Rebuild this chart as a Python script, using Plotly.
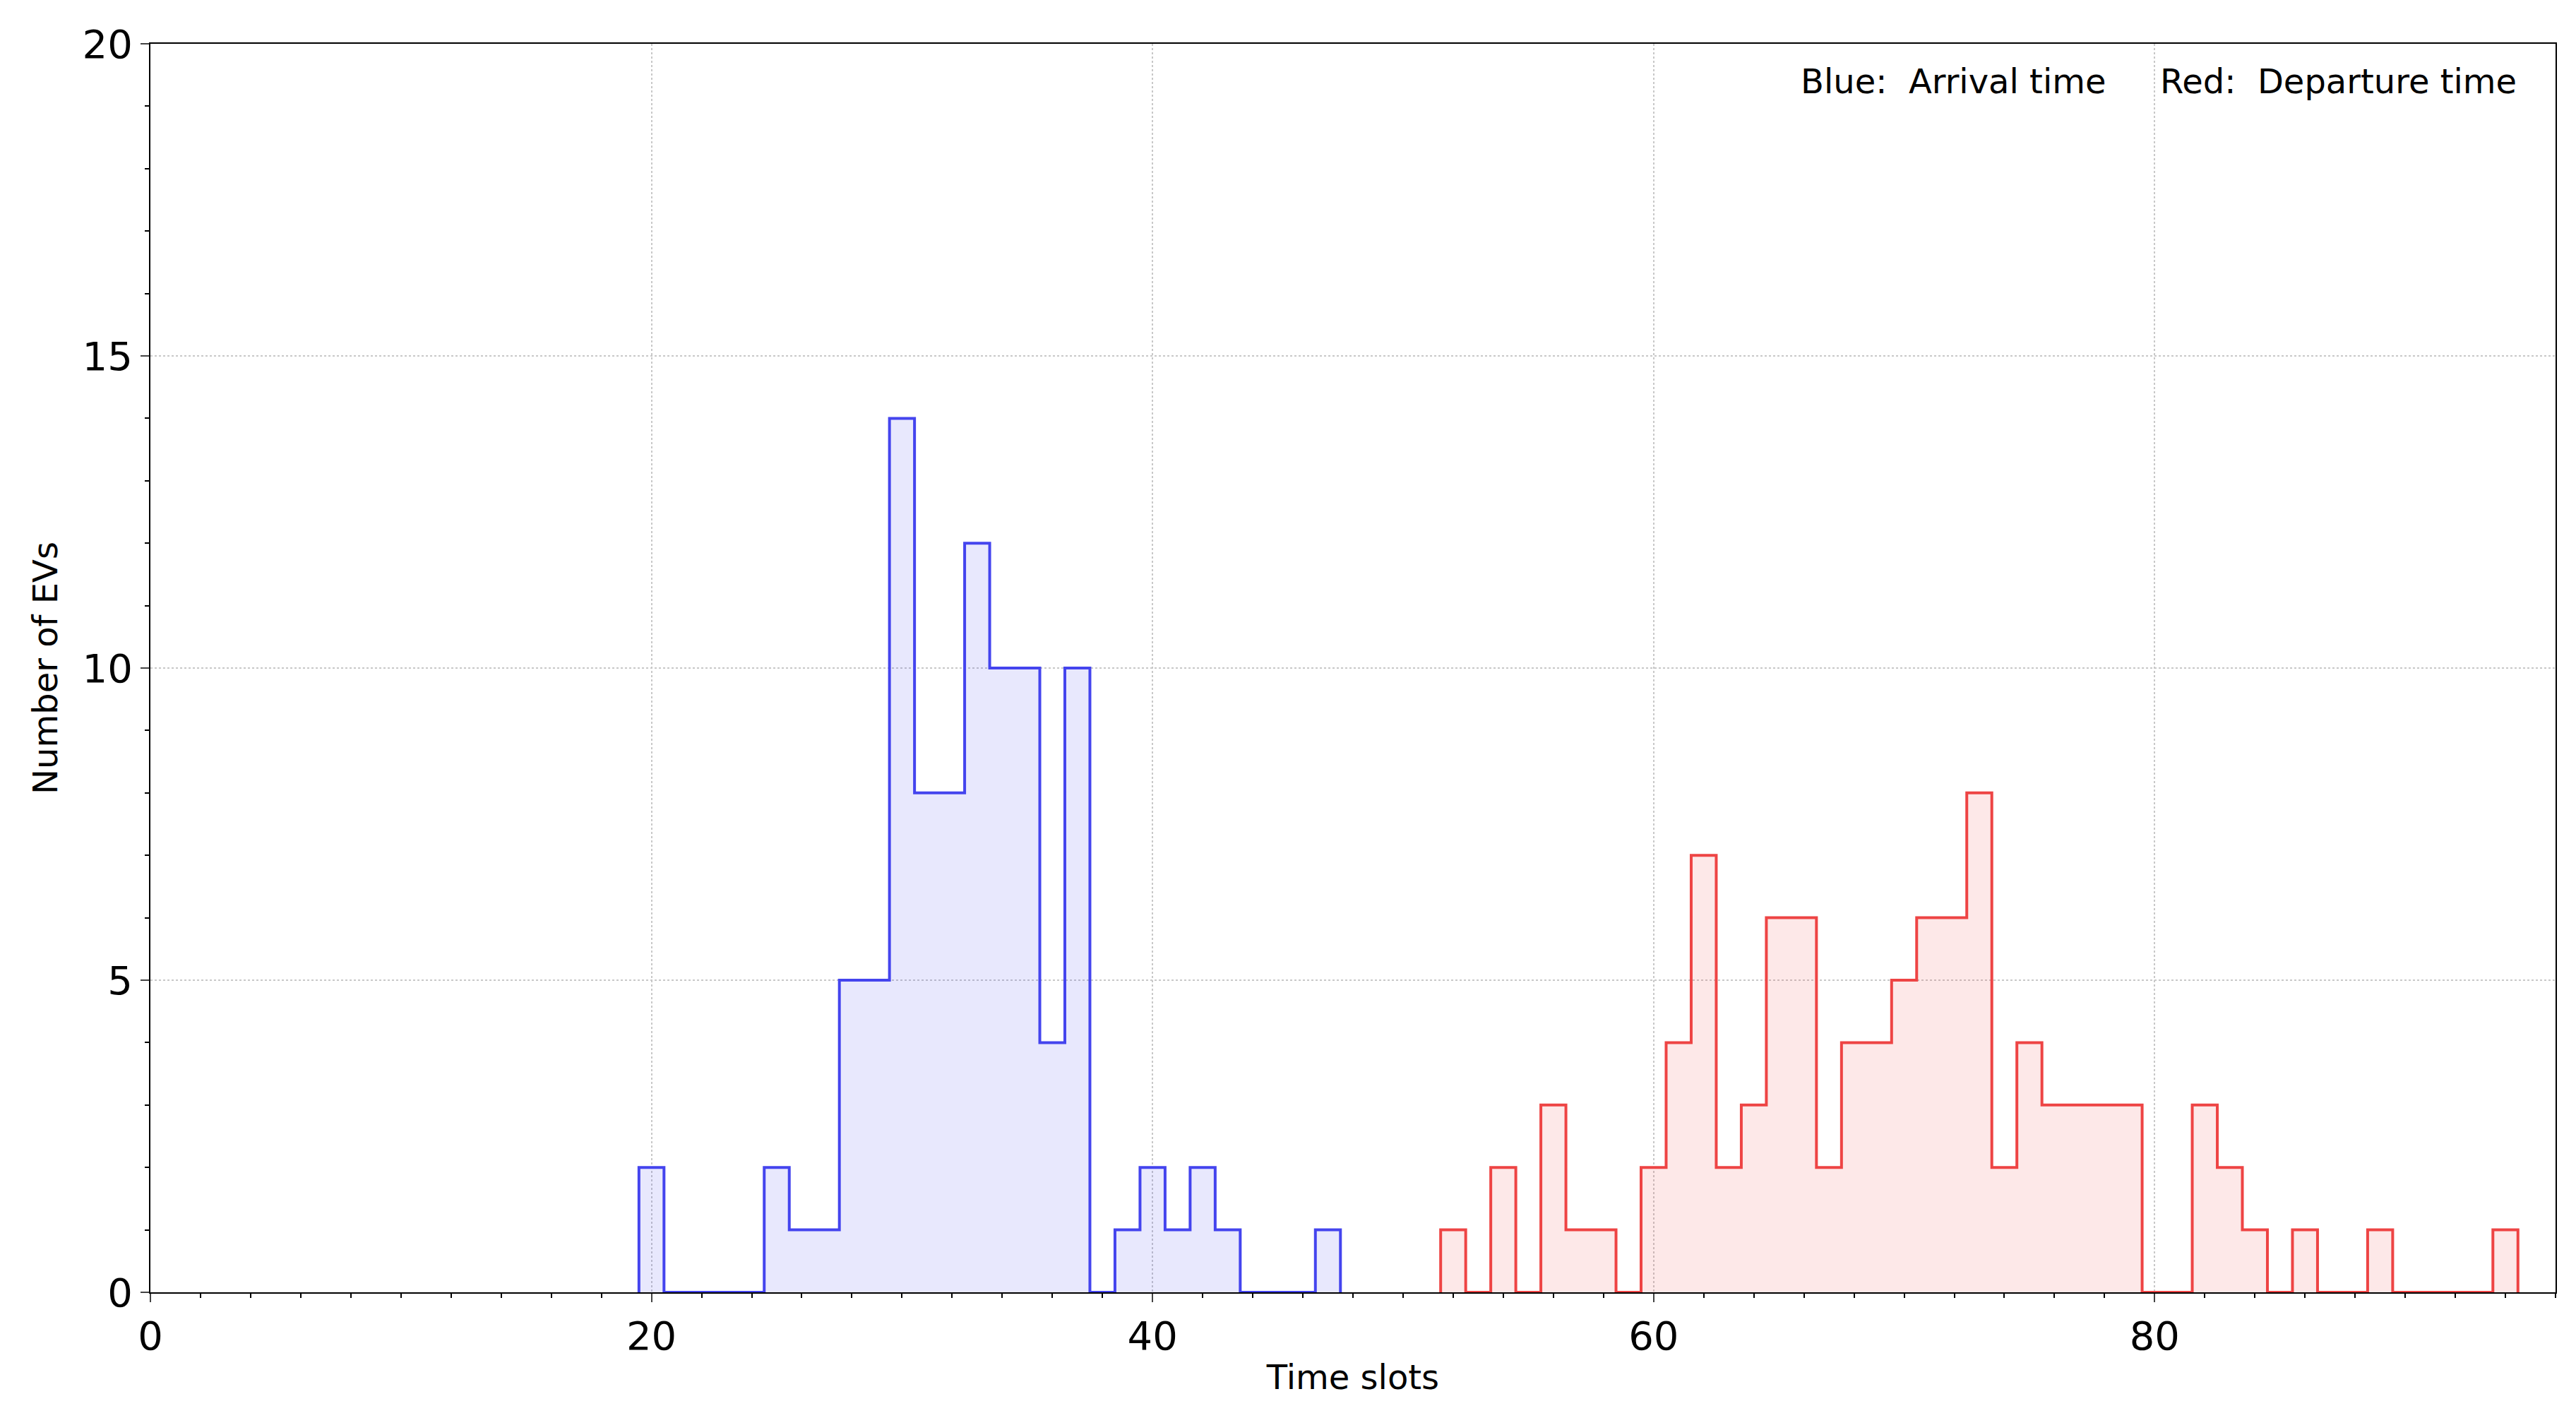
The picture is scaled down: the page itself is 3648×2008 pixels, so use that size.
import plotly.graph_objects as go

# Data: bin centers and counts
blue_slots = [20, 25, 26, 27, 28, 29, 30, 31, 32, 33, 34, 35, 36, 37, 39, 40, 41, 42, 43, 47]
blue_counts = [2, 2, 1, 1, 5, 5, 14, 8, 8, 12, 10, 10, 4, 10, 1, 2, 1, 2, 1, 1]
red_slots = [52, 54, 56, 57, 58, 60, 61, 62, 63, 64, 65, 66, 67, 68, 69, 70, 71, 72, 73, 74, 75,
             76, 77, 78, 79, 82, 83, 84, 86, 89, 94]
red_counts = [1, 2, 3, 1, 1, 2, 4, 7, 2, 3, 6, 6, 2, 4, 4, 5, 6, 6, 8, 2, 4,
              3, 3, 3, 3, 3, 2, 1, 1, 1, 1]
x_ticks = [0, 20, 40, 60, 80]
y_ticks = [0, 5, 10, 15, 20]


def step_series(slots, counts):
    d = dict(zip(slots, counts))
    lo, hi = min(slots), max(slots)
    xs, ys = [], []
    for s in range(lo, hi + 1):
        xs.append(s - 0.5)
        ys.append(d.get(s, 0))
    xs.append(hi + 0.5)
    ys.append(0)
    xs = [lo - 0.5] + xs
    ys = [0] + ys
    return xs, ys


fig = go.Figure()
for slots, counts, lc, fc in [(blue_slots, blue_counts, "#4444ee", "rgba(68,68,238,0.12)"),
                              (red_slots, red_counts, "#ee4444", "rgba(238,68,68,0.12)")]:
    xs, ys = step_series(slots, counts)
    fig.add_trace(go.Scatter(x=xs, y=ys, mode="lines", line=dict(shape="hv", color=lc, width=4),
                             fill="tozeroy", fillcolor=fc, showlegend=False))

font = "DejaVu Sans"
axis_common = dict(showline=True, linecolor="black", linewidth=2, mirror=True,
                   showgrid=True, gridcolor="#c8c8c8", griddash="dot", gridwidth=2,
                   ticks="outside", ticklen=12, tickwidth=2, zeroline=False,
                   tickfont=dict(family=font, size=56, color="black"))
fig.update_xaxes(range=[0, 96], tickvals=x_ticks,
                 title=dict(text="Time slots", font=dict(family=font, size=48, color="black"), standoff=10),
                 minor=dict(ticks="outside", ticklen=6, dtick=2, tickwidth=1.5, tickcolor="black", showgrid=False),
                 **axis_common)
fig.update_yaxes(range=[0, 20], tickvals=y_ticks,
                 title=dict(text="Number of EVs", font=dict(family=font, size=48, color="black"), standoff=20),
                 minor=dict(ticks="outside", ticklen=6, dtick=1, tickwidth=1.5, tickcolor="black", showgrid=False),
                 **axis_common)
fig.add_annotation(x=0.814, y=0.97, xref="paper", yref="paper", xanchor="right", yanchor="middle",
                   text="Blue:  Arrival time", showarrow=False, font=dict(family=font, size=48, color="black"))
fig.add_annotation(x=0.835, y=0.97, xref="paper", yref="paper", xanchor="left", yanchor="middle",
                   text="Red:  Departure time", showarrow=False, font=dict(family=font, size=48, color="black"))
fig.update_layout(width=3648, height=2008, plot_bgcolor="white", paper_bgcolor="white",
                  margin=dict(l=205, r=37, t=54, b=186))
fig.write_html("out.html")
